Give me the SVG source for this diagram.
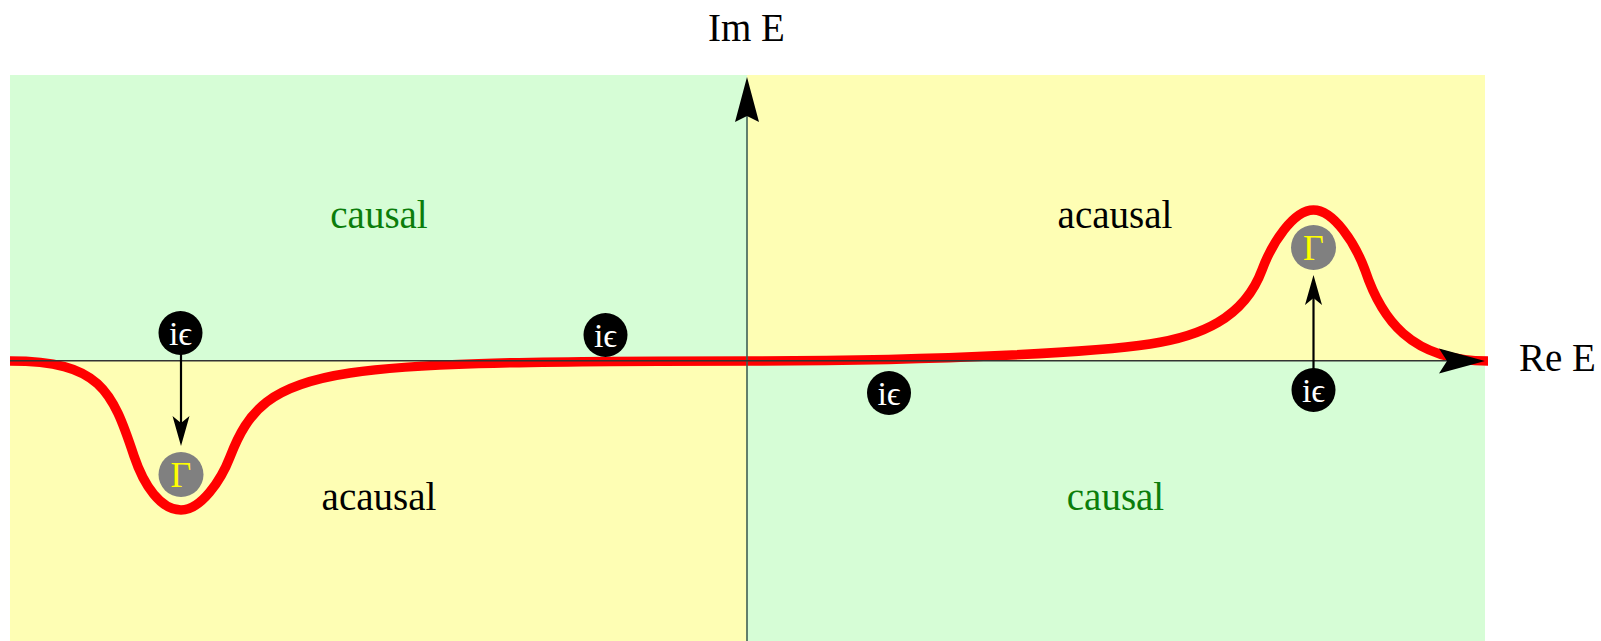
<svg xmlns="http://www.w3.org/2000/svg" width="1601" height="641" viewBox="0 0 1601 641">
<style>
.lbl{font-family:"Liberation Serif","DejaVu Serif",serif;font-size:39px;text-anchor:middle}
.green{fill:#0b7d0b}
.blk{fill:#000}
.ie{fill:#000}
.iet{font-family:"Liberation Serif","DejaVu Serif",serif;font-size:34px;fill:#fff;text-anchor:middle}
.gc{fill:#808080}
.gt{font-family:"Liberation Serif","DejaVu Serif",serif;font-size:36px;fill:#ffff00;text-anchor:middle}
.arr{stroke:#000;stroke-width:2.2;fill:none}
</style>
<rect width="1601" height="641" fill="#fff"/>
<g id="regions">
<rect x="10" y="75" width="737" height="286" fill="#d6fdd6"/>
<rect x="747" y="75" width="738" height="286" fill="#fefeb4"/>
<rect x="10" y="361" width="737" height="280" fill="#fefeb4"/>
<rect x="747" y="361" width="738" height="280" fill="#d6fdd6"/>
</g>
<g id="contour">
<path d="M10,361 C100,361 112,390 134,456 C144,486 161,510 181,510 C201,510 221,480.4 230,457 C248,410.2 270,385 350,373 C410,364 500,361 750,361 C950,361 1100,351.5 1150,344 C1200,336.5 1244,318.6 1262,270 C1272,243 1293.5,210 1313.5,210 C1333.5,210 1355,243 1365,270 C1381,318 1410,361 1488,361" fill="none" stroke="#ff0000" stroke-width="9.5"/>
</g>
<g id="connectors">
<line x1="747" y1="641" x2="747" y2="115" stroke="#3f5f55" stroke-width="1.6"/>
<line x1="10" y1="360.7" x2="1448" y2="360.7" stroke="#333" stroke-width="1.4"/>
<path d="M747,77 L759,122 L747,116 L735,122 Z" fill="#000"/>
<path d="M1485,361 L1439,348.5 L1447,361 L1439,373.5 Z" fill="#000"/>
<line class="arr" x1="181" y1="350" x2="181" y2="424"/>
<path d="M181,446 L172.5,416 L181,423 L189.5,416 Z" fill="#000"/>
<line class="arr" x1="1313.5" y1="372" x2="1313.5" y2="297"/>
<path d="M1313.5,275 L1322,305 L1313.5,298 L1305,305 Z" fill="#000"/>
</g>
<g id="axis-labels">
<text class="lbl blk" x="746.5" y="41">Im E</text>
<text class="lbl blk" x="1519" y="371" style="text-anchor:start">Re E</text>
</g>
<g id="region-labels">
<text class="lbl green" x="379" y="228">causal</text>
<text class="lbl blk" x="1115" y="228">acausal</text>
<text class="lbl blk" x="379" y="510">acausal</text>
<text class="lbl green" x="1115.5" y="510">causal</text>
</g>
<g id="ie1"><circle class="ie" cx="180.5" cy="333" r="22"/><text class="iet" x="180.5" y="344.5">iϵ</text></g>
<g id="ie2"><circle class="ie" cx="605.5" cy="335" r="22"/><text class="iet" x="605.5" y="346.5">iϵ</text></g>
<g id="ie3"><circle class="ie" cx="889" cy="393" r="22"/><text class="iet" x="889" y="404.5">iϵ</text></g>
<g id="ie4"><circle class="ie" cx="1313.5" cy="390" r="22"/><text class="iet" x="1313.5" y="401.5">iϵ</text></g>
<g id="gamma1"><circle class="gc" cx="181" cy="474.5" r="22.5"/><text class="gt" x="181" y="487">Γ</text></g>
<g id="gamma2"><circle class="gc" cx="1313.5" cy="247.5" r="22.5"/><text class="gt" x="1313.5" y="260">Γ</text></g>
</svg>
